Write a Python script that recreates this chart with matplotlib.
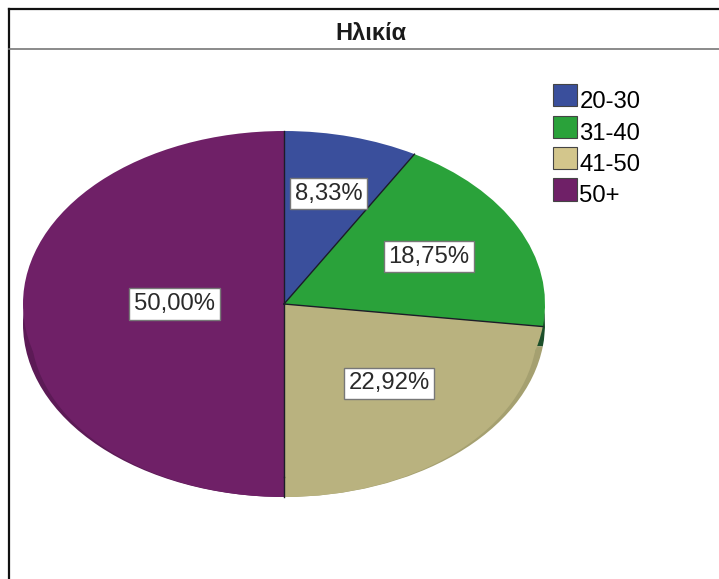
import matplotlib
matplotlib.use('Agg')
import matplotlib.pyplot as plt
import numpy as np
from matplotlib.lines import Line2D
from matplotlib.legend_handler import HandlerPatch
from matplotlib.patches import Rectangle

plt.rcParams['font.family'] = ['Liberation Sans', 'DejaVu Sans']

# data
labels = ['20-30', '31-40', '41-50', '50+']
values = [8.33, 18.75, 22.92, 50.00]
colors = ['#3A4F9C', '#2AA23A', '#B9B27F', '#6F2067']
side_colors = ['#2E3F7C', '#1C4F2A', '#A5A070', '#5C1A56']
legend_colors = ['#3A4F9C', '#2AA23A', '#D3C68C', '#6F2067']
label_radius = [0.66, 0.62, 0.61, 0.42]

W, H = 719, 579
depth = 20 / 173  # height of the pie side, in units of the y radius
inner = 0.97      # the side only shows as a crescent, it melts into the face at the bottom

fig = plt.figure(figsize=(W / 100, H / 100), dpi=100, facecolor='white')
ax = fig.add_axes([23 / W, 1 - 497 / H, 522 / W, 366 / H])


def fmt(p):
    return ('%.2f%%' % p).replace('.', ',')


# side of the pie, face coloured fill over it, then the top face
ax.pie(values, colors=side_colors, startangle=90, counterclock=False,
       center=(0, -depth), wedgeprops={'linewidth': 0, 'clip_on': False})
ax.pie(values, colors=colors, startangle=90, counterclock=False, radius=inner,
       center=(0, -depth - (1 - inner)), wedgeprops={'linewidth': 0, 'clip_on': False})
wedges, texts, pcts = ax.pie(values, colors=colors, startangle=90, counterclock=False,
                             autopct=fmt, pctdistance=0.62,
                             wedgeprops={'linewidth': 0, 'clip_on': False},
                             textprops={'fontsize': 17.2, 'color': '#2a2a2a', 'zorder': 5})
for t, r in zip(pcts, label_radius):
    x, y = t.get_position()
    t.set_position((x * r / 0.62, y * r / 0.62))
    t.set_bbox({'facecolor': 'white', 'edgecolor': '#777777', 'linewidth': 1, 'pad': 3.5})

# slice borders, from the centre out to the rim
angles = np.pi / 2 - 2 * np.pi * np.cumsum(values) / np.sum(values)
for a in angles:
    ax.plot([0, np.cos(a)], [0, np.sin(a)], color='#1c1c28', linewidth=1, clip_on=False, zorder=3)
ax.plot([0, 0], [-1, -1 - depth], color='#1c1c28', linewidth=1, clip_on=False, zorder=3)

# squash the circle into the tilted ellipse
ax.set_aspect('auto')
ax.set_xlim(-1, 1)
ax.set_ylim(-1 - depth, 1)


def legend_box(legend, orig_handle, xdescent, ydescent, width, height, fontsize):
    return Rectangle((-xdescent, -ydescent + 0.2 * fontsize), width, height)


handles = [Rectangle((0, 0), 1, 1, facecolor=c, edgecolor='#444444', linewidth=0.8)
           for c in legend_colors]
fig.legend(handles, labels, loc='upper left', bbox_to_anchor=(553 / W, 1 - 89 / H),
           frameon=False, fontsize=17.2, handlelength=1.0, handleheight=1.05,
           handletextpad=0.1, labelspacing=0.3, borderpad=0, borderaxespad=0,
           handler_map={Rectangle: HandlerPatch(patch_func=legend_box)})

# chart frame and title band
fig.add_artist(Line2D([9 / W, 9 / W], [0, 1 - 9 / H], color='#111111', linewidth=1.6))
fig.add_artist(Line2D([9 / W, 1], [1 - 9 / H, 1 - 9 / H], color='#111111', linewidth=1.6))
fig.add_artist(Line2D([9 / W, 1], [1 - 49 / H, 1 - 49 / H], color='#777777', linewidth=1.2))
fig.text(371 / W, 1 - 33 / H, 'Ηλικία', ha='center', va='center', fontsize=17, fontweight='bold', color='#1a1a1a')

fig.savefig('out.png', dpi=100)
